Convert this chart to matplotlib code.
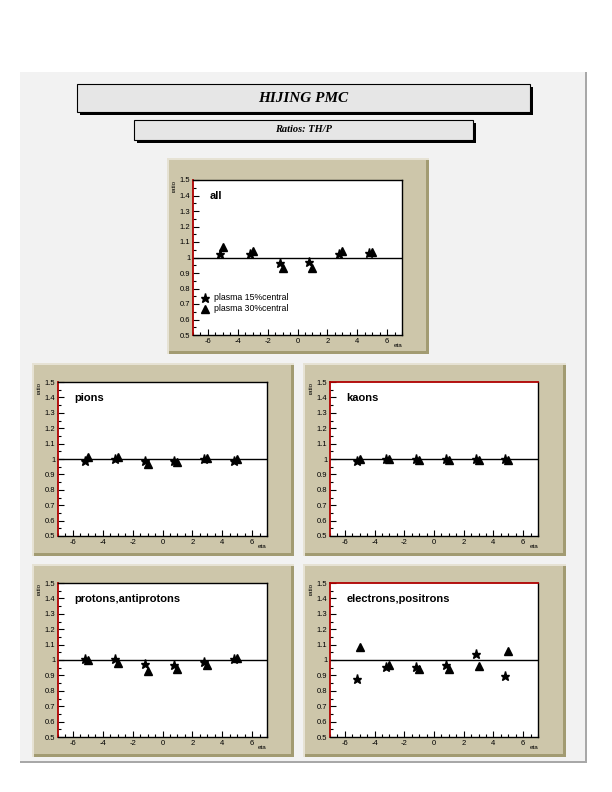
import matplotlib
matplotlib.use("Agg")
import matplotlib.pyplot as plt
from matplotlib.patches import Rectangle
from matplotlib.ticker import MultipleLocator

W, H = 612, 792

# data: ratio vs eta
eta_star = [-5.2, -3.2, -1.2, 0.8, 2.8, 4.8]
eta_tri = [-5, -3, -1, 1, 3, 5]

all_star = [1.02, 1.02, 0.966, 0.97, 1.02, 1.03]
all_tri = [1.07, 1.04, 0.93, 0.935, 1.045, 1.035]

pions_star = [0.99, 1.0, 0.985, 0.99, 1.0, 0.99]
pions_tri = [1.01, 1.01, 0.97, 0.98, 1.005, 1.0]

kaons_star = [0.985, 1.0, 1.0, 1.0, 1.0, 1.0]
kaons_tri = [1.0, 1.0, 0.995, 0.995, 0.995, 0.995]

protons_star = [1.005, 1.005, 0.975, 0.968, 0.99, 1.006]
protons_tri = [1.0, 0.983, 0.93, 0.94, 0.97, 1.01]

electrons_star = [0.877, 0.957, 0.957, 0.97, 1.04, 0.898]
electrons_tri = [1.087, 0.97, 0.944, 0.944, 0.963, 1.058]

legend_labels = ["plasma 15%central", "plasma 30%central"]

SANS = ["Liberation Sans", "DejaVu Sans"]
SERIF = ["Liberation Serif", "DejaVu Serif"]


def fx(x):
    return x / W


def fy(y):
    return 1 - y / H


def frect(fig, x0, y0, x1, y1, **kw):
    fig.patches.append(Rectangle((fx(x0), fy(y1)), fx(x1 - x0), (y1 - y0) / H,
                                 transform=fig.transFigure, zorder=-10, **kw))


def pad(fig, x0, y0, x1, y1):
    # beveled ROOT-style pad
    frect(fig, x0, y0, x1, y1, facecolor="#e6e2d4", edgecolor="none")
    frect(fig, x0 + 2, y0 + 2, x1, y1, facecolor="#a29b72", edgecolor="none")
    frect(fig, x0 + 2, y0 + 2, x1 - 3, y1 - 3, facecolor="#cdc6aa", edgecolor="none")


def panel(fig, box, label, ys, yt, red_top=False, legend=False):
    x0, y0, x1, y1 = box
    ax = fig.add_axes([fx(x0), fy(y1), fx(x1 - x0), (y1 - y0) / H])
    ax.set_xlim(-7, 7)
    ax.set_ylim(0.5, 1.5)
    ax.axhline(1.0, color="black", lw=1.0)
    ax.plot(eta_star, ys, ls="none", marker="*", ms=6.5, color="black")
    ax.plot(eta_tri, yt, ls="none", marker="^", ms=6, color="black")
    ax.xaxis.set_major_locator(MultipleLocator(2))
    ax.xaxis.set_minor_locator(MultipleLocator(0.5))
    ax.yaxis.set_major_locator(MultipleLocator(0.1))
    ax.yaxis.set_minor_locator(MultipleLocator(0.05))
    ax.tick_params(which="both", direction="in", labelsize=5.5, pad=2,
                   width=0.8)
    ax.tick_params(which="major", length=4)
    ax.tick_params(which="minor", length=2)
    ax.set_yticks([0.5, 0.6, 0.7, 0.8, 0.9, 1.0, 1.1, 1.2, 1.3, 1.4, 1.5])
    ax.set_yticklabels(["0.5", "0.6", "0.7", "0.8", "0.9", "1", "1.1",
                        "1.2", "1.3", "1.4", "1.5"], family=SANS)
    ax.set_xticks([-6, -4, -2, 0, 2, 4, 6])
    ax.set_xticklabels(["-6", "-4", "-2", "0", "2", "4", "6"], family=SANS)
    for s in ax.spines.values():
        s.set_linewidth(1.0)
    ax.spines["left"].set_color("#b00000")
    ax.spines["left"].set_linewidth(1.3)
    if red_top:
        ax.spines["top"].set_color("#b00000")
        ax.spines["top"].set_linewidth(1.3)
    ax.text(0.08, 0.93, label, transform=ax.transAxes, fontsize=8,
            fontweight="bold", family=SANS, va="top", ha="left")
    ax.text(-0.09, 1.0, "ratio", transform=ax.transAxes, fontsize=4.5,
            rotation=90, ha="center", va="top", family=SANS)
    ax.text(1.0, -0.05, "eta", transform=ax.transAxes, fontsize=4.5,
            ha="right", va="top", family=SANS)
    if legend:
        ax.plot([-6.2], [0.74], ls="none", marker="*", ms=6.5, color="black")
        ax.plot([-6.2], [0.67], ls="none", marker="^", ms=6, color="black")
        ax.text(-5.6, 0.74, legend_labels[0], fontsize=6.3, va="center",
                family=SANS)
        ax.text(-5.6, 0.67, legend_labels[1], fontsize=6.3, va="center",
                family=SANS)
    return ax


fig = plt.figure(figsize=(W / 100, H / 100), dpi=100)
fig.patch.set_facecolor("white")

# canvas
frect(fig, 20, 72, 587, 763, facecolor="#a8a8a8", edgecolor="none")
frect(fig, 20, 72, 585, 761, facecolor="#f2f2f2", edgecolor="none")

# title boxes
frect(fig, 80, 87, 533, 115, facecolor="black", edgecolor="none")
frect(fig, 77, 84, 530, 112, facecolor="#e6e6e6", edgecolor="black", lw=0.8)
fig.text(fx(303.5), fy(98), "HIJING PMC", fontsize=11, fontweight="bold",
         style="italic", family=SERIF, ha="center", va="center")
frect(fig, 137, 123, 476, 143, facecolor="black", edgecolor="none")
frect(fig, 134, 120, 473, 140, facecolor="#e6e6e6", edgecolor="black", lw=0.8)
fig.text(fx(303.5), fy(130), "Ratios: TH/P", fontsize=7.5, fontweight="bold",
         style="italic", family=SERIF, ha="center", va="center")

# pads
pad(fig, 167, 158, 429, 354)
pad(fig, 32, 363, 294, 556)
pad(fig, 303, 363, 566, 556)
pad(fig, 32, 564, 294, 757)
pad(fig, 303, 564, 566, 757)

panel(fig, (193, 180, 402, 335), "all", all_star, all_tri, legend=True)
panel(fig, (58, 382, 267, 536), "pions", pions_star, pions_tri)
panel(fig, (330, 382, 538, 536), "kaons", kaons_star, kaons_tri, red_top=True)
panel(fig, (58, 583, 267, 737), "protons,antiprotons", protons_star, protons_tri)
panel(fig, (330, 583, 538, 737), "electrons,positrons", electrons_star,
      electrons_tri, red_top=True)

fig.savefig("out.png", dpi=100)
